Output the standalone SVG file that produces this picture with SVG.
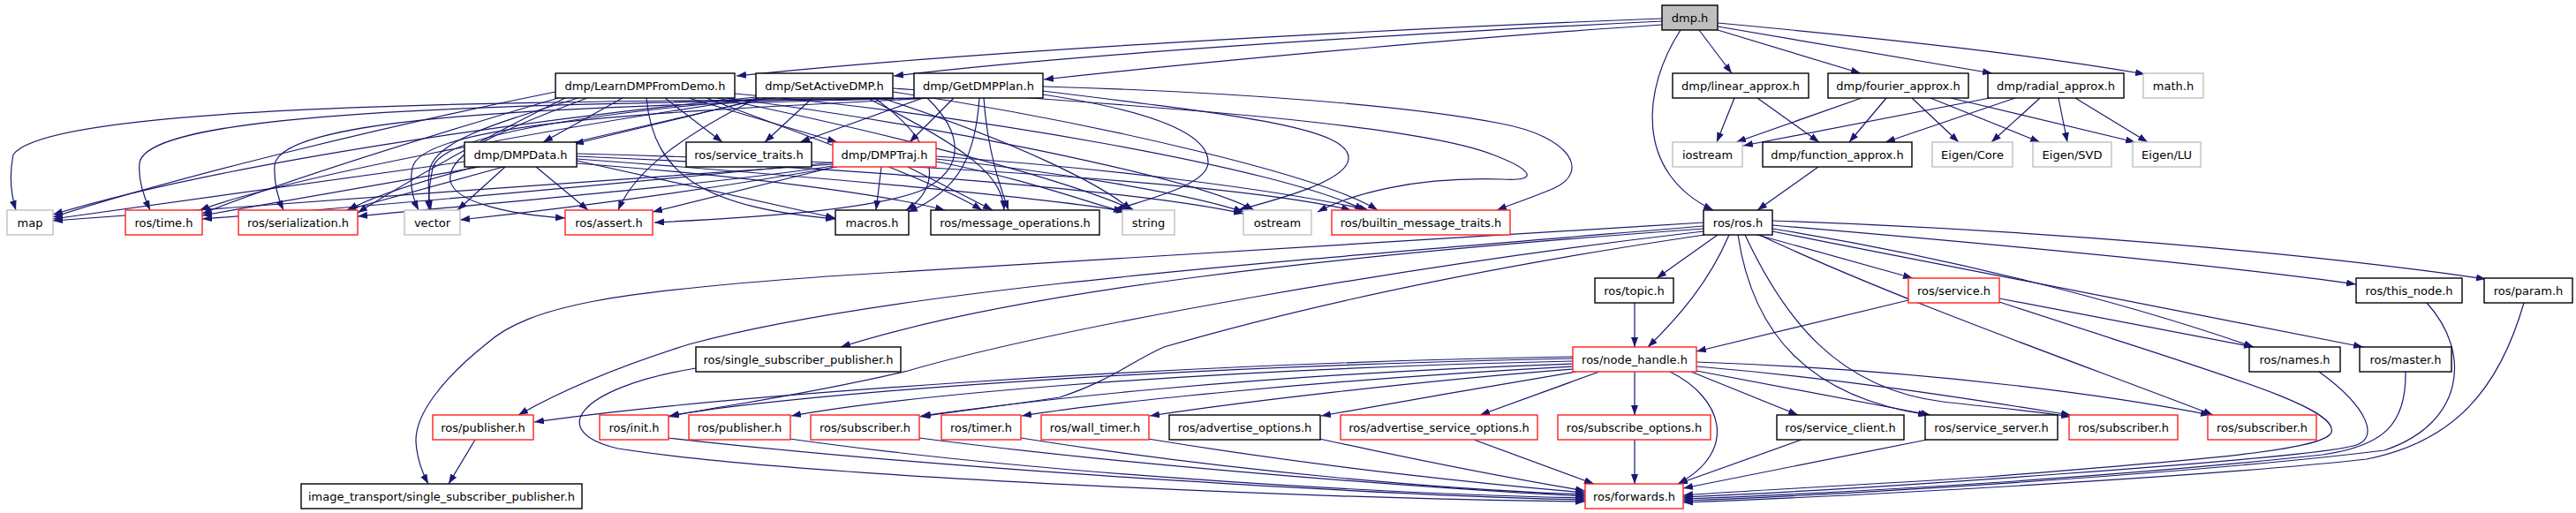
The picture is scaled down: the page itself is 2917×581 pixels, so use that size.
<svg xmlns="http://www.w3.org/2000/svg" width="2917" height="581" viewBox="0 0 2917 581">
<style>
.n rect{fill:#fff;stroke:#000;stroke-width:1.4}
.n.red rect{stroke:#ff2020}
.n.gray rect{stroke:#c0c0c0}
.n.root rect{fill:#bfbfbf}
.n text{font-family:"DejaVu Sans",sans-serif;font-size:13px;text-anchor:middle;fill:#000}
#edges path{fill:none;stroke:#191970;stroke-width:1.2;marker-end:url(#ah)}
</style>
<defs>
<marker id="ah" markerUnits="userSpaceOnUse" markerWidth="11" markerHeight="8" refX="11" refY="4" orient="auto"><path d="M0,0 L11,4 L0,8 z" fill="#191970"/></marker>
</defs>
<rect width="2917" height="581" fill="#fff"/>
<g id="edges">
<path d="M1882,21 C1550,34 1100,58 834,86"/>
<path d="M1882,24 C1600,38 1250,58 1012,86"/>
<path d="M1882,28 C1700,40 1400,66 1182,90"/>
<path d="M1924,34 L1961,83"/>
<path d="M1945,34 L2107,83"/>
<path d="M1945,30 L2256,83"/>
<path d="M1945,26 C2150,45 2300,62 2429,84"/>
<path d="M1903,34 C1860,100 1850,195 1940,238"/>
<path d="M1964,111 L1944,161"/>
<path d="M1990,111 L2060,161"/>
<path d="M2108,111 L1966,161"/>
<path d="M2136,111 L2094,161"/>
<path d="M2165,111 L2218,161"/>
<path d="M2186,111 L2310,161"/>
<path d="M2209,111 L2418,161"/>
<path d="M2253,111 L1974,165"/>
<path d="M2282,111 L2135,161"/>
<path d="M2310,111 L2255,161"/>
<path d="M2331,111 L2341,161"/>
<path d="M2350,111 L2432,161"/>
<path d="M2059,189 L1990,238"/>
<path d="M705,111 L615,161"/>
<path d="M753,111 L818,161"/>
<path d="M780,111 L948,161"/>
<path d="M732,111 C740,200 800,235 946,248"/>
<path d="M629,104 C450,140 200,200 60,246"/>
<path d="M632,111 C500,150 320,205 229,242"/>
<path d="M640,111 C560,150 470,200 405,241"/>
<path d="M655,111 C560,140 490,160 486,195 C484,215 486,228 488,238"/>
<path d="M665,111 C560,150 505,175 510,205 C515,230 580,243 640,247"/>
<path d="M800,111 C900,150 1050,200 1112,238"/>
<path d="M812,111 C1000,150 1200,200 1284,238"/>
<path d="M822,111 C1050,140 1350,200 1420,238"/>
<path d="M832,106 C1100,130 1450,190 1545,238"/>
<path d="M856,113 L650,163"/>
<path d="M920,111 L866,161"/>
<path d="M856,110 C600,135 250,185 60,243"/>
<path d="M860,111 C620,145 330,200 226,238"/>
<path d="M868,111 C700,150 460,200 394,238"/>
<path d="M880,111 C700,125 500,150 490,190 C486,210 485,228 486,238"/>
<path d="M858,111 C780,150 720,190 700,238"/>
<path d="M990,111 C1060,160 1070,210 1026,238"/>
<path d="M982,111 C1100,170 1135,200 1137,238"/>
<path d="M998,111 C1150,160 1250,210 1281,238"/>
<path d="M1011,100 C1300,120 1600,140 1690,175 C1735,192 1745,206 1700,203 C1600,200 1530,220 1492,240"/>
<path d="M1011,104 C1250,140 1500,200 1560,238"/>
<path d="M1045,111 L906,161"/>
<path d="M1080,111 L1030,161"/>
<path d="M1038,111 C700,116 60,112 15,175 C10,200 13,222 18,238"/>
<path d="M1042,111 C650,118 165,120 158,185 C156,205 164,225 170,238"/>
<path d="M1048,111 C700,120 318,126 311,187 C310,207 315,225 321,238"/>
<path d="M1055,111 C800,125 478,135 467,190 C463,210 468,226 474,238"/>
<path d="M1050,111 C1090,150 1095,190 1045,215 C985,240 820,248 741,252"/>
<path d="M1109,111 C1105,170 1090,215 1028,240"/>
<path d="M1114,111 C1118,170 1132,210 1142,238"/>
<path d="M1181,107 C1300,125 1370,150 1368,185 C1366,210 1300,225 1262,238"/>
<path d="M1181,103 C1400,130 1530,145 1527,180 C1525,205 1450,225 1402,238"/>
<path d="M1181,98 C1400,104 1600,120 1700,140 C1780,155 1800,195 1760,213 C1740,222 1715,230 1695,238"/>
<path d="M526,183 L60,248"/>
<path d="M543,189 L229,244"/>
<path d="M570,189 L392,238"/>
<path d="M572,189 L518,238"/>
<path d="M607,189 L666,238"/>
<path d="M653,182 L946,247"/>
<path d="M653,185 C850,200 1000,220 1070,238"/>
<path d="M653,180 C900,198 1200,225 1275,240"/>
<path d="M653,177 C1000,192 1300,218 1408,242"/>
<path d="M653,174 C1100,186 1420,212 1530,238"/>
<path d="M943,186 C700,205 300,230 60,250"/>
<path d="M943,184 C700,208 400,235 229,248"/>
<path d="M943,188 C800,210 500,235 405,245"/>
<path d="M948,189 C800,215 650,235 521,249"/>
<path d="M945,189 L739,240"/>
<path d="M998,189 L992,238"/>
<path d="M1028,189 L1124,238"/>
<path d="M1060,183 C1150,200 1220,225 1272,240"/>
<path d="M1060,180 C1200,195 1350,220 1408,240"/>
<path d="M1060,177 C1250,190 1450,215 1550,238"/>
<path d="M1945,266 L1876,315"/>
<path d="M1958,266 C1935,320 1900,360 1866,393"/>
<path d="M1990,266 L2166,315"/>
<path d="M2007,255 C2300,280 2550,305 2668,322"/>
<path d="M2007,250 C2300,260 2600,285 2815,316"/>
<path d="M2007,259 C2200,290 2400,340 2552,393"/>
<path d="M2007,262 C2250,310 2500,360 2676,393"/>
<path d="M1992,266 C2150,340 2350,410 2506,470"/>
<path d="M1976,266 C2020,360 2080,440 2200,455 C2260,462 2310,466 2345,472"/>
<path d="M1968,266 C1985,380 2050,450 2183,470"/>
<path d="M1929,252 C1500,280 1100,300 937,313 C700,330 600,345 550,390 C500,430 470,470 471,500 C472,520 478,535 485,548"/>
<path d="M1929,256 C1400,300 1000,330 780,390 C700,415 640,440 587,470"/>
<path d="M1929,259 C1500,290 1150,330 952,393"/>
<path d="M1929,262 C1600,300 1200,370 1028,420 C900,450 800,462 757,472"/>
<path d="M1930,266 C1700,300 1500,340 1318,393 C1280,410 1260,430 1200,450 C1120,462 1080,466 1042,472"/>
<path d="M1851,343 L1851,393"/>
<path d="M2161,340 L1921,398"/>
<path d="M2264,338 L2552,393"/>
<path d="M2264,342 C2500,420 2650,460 2640,490 C2630,510 2500,520 2250,540 C2100,550 1950,557 1906,561"/>
<path d="M1781,404 C1300,412 800,450 605,478"/>
<path d="M1781,406 C1300,416 900,446 758,471"/>
<path d="M1781,409 C1300,420 1000,452 896,471"/>
<path d="M1781,412 C1400,425 1150,456 1043,471"/>
<path d="M1781,415 C1500,430 1250,456 1157,471"/>
<path d="M1781,418 C1600,432 1400,456 1302,471"/>
<path d="M1785,421 C1700,435 1580,456 1496,471"/>
<path d="M1811,421 L1676,470"/>
<path d="M1851,421 L1851,470"/>
<path d="M1891,421 C1950,450 1970,510 1900,548"/>
<path d="M1915,421 L2036,470"/>
<path d="M1921,420 L2186,470"/>
<path d="M1921,415 C2100,430 2250,455 2345,470"/>
<path d="M1921,410 C2200,420 2400,450 2503,470"/>
<path d="M2626,421 C2680,460 2700,500 2660,506 C2600,520 2100,555 1906,563"/>
<path d="M2724,421 C2725,480 2700,505 2630,515 C2400,540 2100,558 1906,565"/>
<path d="M2748,343 C2800,400 2790,480 2700,510 C2500,535 2100,560 1906,567"/>
<path d="M2858,343 C2830,440 2780,500 2680,520 C2500,540 2100,562 1906,569"/>
<path d="M2182,498 L1906,553"/>
<path d="M2040,498 L1900,548"/>
<path d="M1851,498 L1851,548"/>
<path d="M1669,498 L1805,548"/>
<path d="M1494,497 C1600,520 1700,540 1795,556"/>
<path d="M1300,497 C1500,530 1700,550 1795,558"/>
<path d="M1156,496 C1400,535 1650,555 1795,560"/>
<path d="M1041,496 C1300,530 1650,555 1795,562"/>
<path d="M894,497 C1200,540 1600,560 1795,564"/>
<path d="M757,496 C1100,535 1600,562 1795,566"/>
<path d="M788,417 C650,440 620,490 700,508 C900,540 1500,565 1795,568"/>
<path d="M538,498 L508,548"/>
</g>
<g id="dmp_h" class="n root"><rect x="1882" y="6" width="63" height="28"/><text x="1913.5" y="25">dmp.h</text></g>
<g id="learn" class="n"><rect x="629" y="83" width="203" height="28"/><text x="730.5" y="102">dmp/LearnDMPFromDemo.h</text></g>
<g id="setactive" class="n"><rect x="856" y="83" width="155" height="28"/><text x="933.5" y="102">dmp/SetActiveDMP.h</text></g>
<g id="getplan" class="n"><rect x="1035" y="83" width="146" height="28"/><text x="1108" y="102">dmp/GetDMPPlan.h</text></g>
<g id="linear" class="n"><rect x="1894" y="83" width="154" height="28"/><text x="1971" y="102">dmp/linear_approx.h</text></g>
<g id="fourier" class="n"><rect x="2070" y="83" width="159" height="28"/><text x="2149.5" y="102">dmp/fourier_approx.h</text></g>
<g id="radial" class="n"><rect x="2251" y="83" width="154" height="28"/><text x="2328" y="102">dmp/radial_approx.h</text></g>
<g id="math" class="n gray"><rect x="2427" y="83" width="68" height="28"/><text x="2461" y="102">math.h</text></g>
<g id="dmpdata" class="n"><rect x="526" y="161" width="127" height="28"/><text x="589.5" y="180">dmp/DMPData.h</text></g>
<g id="svctraits" class="n"><rect x="777" y="161" width="142" height="28"/><text x="848" y="180">ros/service_traits.h</text></g>
<g id="dmptraj" class="n red"><rect x="943" y="161" width="117" height="28"/><text x="1001.5" y="180">dmp/DMPTraj.h</text></g>
<g id="iostream" class="n gray"><rect x="1894" y="161" width="79" height="28"/><text x="1933.5" y="180">iostream</text></g>
<g id="funcapprox" class="n"><rect x="1996" y="161" width="169" height="28"/><text x="2080.5" y="180">dmp/function_approx.h</text></g>
<g id="eigencore" class="n gray"><rect x="2188" y="161" width="91" height="28"/><text x="2233.5" y="180">Eigen/Core</text></g>
<g id="eigensvd" class="n gray"><rect x="2302" y="161" width="89" height="28"/><text x="2346.5" y="180">Eigen/SVD</text></g>
<g id="eigenlu" class="n gray"><rect x="2415" y="161" width="77" height="28"/><text x="2453.5" y="180">Eigen/LU</text></g>
<g id="map" class="n gray"><rect x="8" y="238" width="52" height="28"/><text x="34" y="257">map</text></g>
<g id="time" class="n red"><rect x="142" y="238" width="87" height="28"/><text x="185.5" y="257">ros/time.h</text></g>
<g id="serialization" class="n red"><rect x="270" y="238" width="135" height="28"/><text x="337.5" y="257">ros/serialization.h</text></g>
<g id="vector" class="n gray"><rect x="458" y="238" width="63" height="28"/><text x="489.5" y="257">vector</text></g>
<g id="assert" class="n red"><rect x="640" y="238" width="99" height="28"/><text x="689.5" y="257">ros/assert.h</text></g>
<g id="macros" class="n"><rect x="946" y="238" width="83" height="28"/><text x="987.5" y="257">macros.h</text></g>
<g id="msgops" class="n"><rect x="1054" y="238" width="191" height="28"/><text x="1149.5" y="257">ros/message_operations.h</text></g>
<g id="string" class="n gray"><rect x="1271" y="238" width="59" height="28"/><text x="1300.5" y="257">string</text></g>
<g id="ostream" class="n gray"><rect x="1408" y="238" width="77" height="28"/><text x="1446.5" y="257">ostream</text></g>
<g id="builtin" class="n red"><rect x="1508" y="238" width="202" height="28"/><text x="1609" y="257">ros/builtin_message_traits.h</text></g>
<g id="ros" class="n"><rect x="1929" y="238" width="78" height="28"/><text x="1968" y="257">ros/ros.h</text></g>
<g id="topic" class="n"><rect x="1806" y="315" width="89" height="28"/><text x="1850.5" y="334">ros/topic.h</text></g>
<g id="service" class="n red"><rect x="2161" y="315" width="103" height="28"/><text x="2212.5" y="334">ros/service.h</text></g>
<g id="thisnode" class="n"><rect x="2668" y="315" width="120" height="28"/><text x="2728" y="334">ros/this_node.h</text></g>
<g id="param" class="n"><rect x="2813" y="315" width="100" height="28"/><text x="2863" y="334">ros/param.h</text></g>
<g id="ssp" class="n"><rect x="788" y="393" width="232" height="28"/><text x="904" y="412">ros/single_subscriber_publisher.h</text></g>
<g id="nodehandle" class="n red"><rect x="1781" y="393" width="140" height="28"/><text x="1851" y="412">ros/node_handle.h</text></g>
<g id="names" class="n"><rect x="2547" y="393" width="103" height="28"/><text x="2598.5" y="412">ros/names.h</text></g>
<g id="master" class="n"><rect x="2672" y="393" width="104" height="28"/><text x="2724" y="412">ros/master.h</text></g>
<g id="pub1" class="n red"><rect x="490" y="470" width="114" height="28"/><text x="547" y="489">ros/publisher.h</text></g>
<g id="init" class="n red"><rect x="679" y="470" width="78" height="28"/><text x="718" y="489">ros/init.h</text></g>
<g id="pub2" class="n red"><rect x="780" y="470" width="115" height="28"/><text x="837.5" y="489">ros/publisher.h</text></g>
<g id="sub1" class="n red"><rect x="918" y="470" width="123" height="28"/><text x="979.5" y="489">ros/subscriber.h</text></g>
<g id="timer" class="n red"><rect x="1066" y="470" width="90" height="28"/><text x="1111" y="489">ros/timer.h</text></g>
<g id="walltimer" class="n red"><rect x="1179" y="470" width="122" height="28"/><text x="1240" y="489">ros/wall_timer.h</text></g>
<g id="advopts" class="n"><rect x="1324" y="470" width="171" height="28"/><text x="1409.5" y="489">ros/advertise_options.h</text></g>
<g id="advsvcopts" class="n red"><rect x="1518" y="470" width="223" height="28"/><text x="1629.5" y="489">ros/advertise_service_options.h</text></g>
<g id="subopts" class="n red"><rect x="1764" y="470" width="173" height="28"/><text x="1850.5" y="489">ros/subscribe_options.h</text></g>
<g id="svcclient" class="n"><rect x="2012" y="470" width="144" height="28"/><text x="2084" y="489">ros/service_client.h</text></g>
<g id="svcserver" class="n"><rect x="2180" y="470" width="150" height="28"/><text x="2255" y="489">ros/service_server.h</text></g>
<g id="sub2" class="n red"><rect x="2343" y="470" width="123" height="28"/><text x="2404.5" y="489">ros/subscriber.h</text></g>
<g id="sub3" class="n red"><rect x="2500" y="470" width="123" height="28"/><text x="2561.5" y="489">ros/subscriber.h</text></g>
<g id="itssp" class="n"><rect x="341" y="548" width="318" height="28"/><text x="500" y="567">image_transport/single_subscriber_publisher.h</text></g>
<g id="forwards" class="n red"><rect x="1795" y="548" width="111" height="28"/><text x="1850.5" y="567">ros/forwards.h</text></g>
</svg>
